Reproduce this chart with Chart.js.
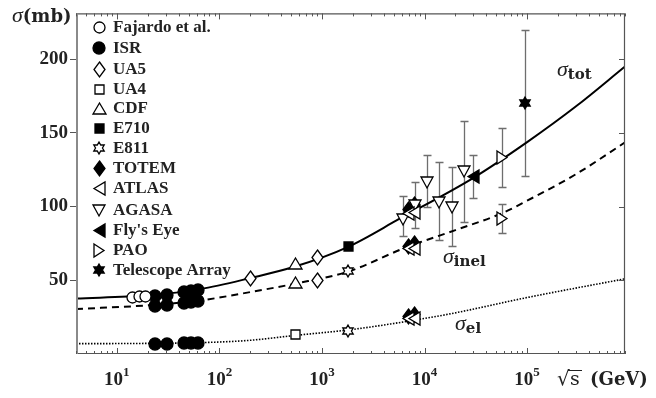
<!DOCTYPE html>
<html>
<head>
<meta charset="utf-8">
<script src="https://cdn.jsdelivr.net/npm/chart.js@4.4.1/dist/chart.umd.min.js"></script>
<style>
  html, body { margin: 0; padding: 0; background: #fff; }
  #wrap { width: 656px; height: 398px; }
</style>
</head>
<body>
<div id="wrap"><canvas id="chart" width="656" height="398"></canvas></div>
<script>
// ---- data (sqrt(s) in GeV, cross sections in mb) ----
const legendNames = ['Fajardo et al.', 'ISR', 'UA5', 'UA4', 'CDF', 'E710', 'E811',
  'TOTEM', 'ATLAS', 'AGASA', "Fly's Eye", 'PAO', 'Telescope Array'];

const fajE = [14.1, 16.5, 19.0];
const fajTot = [38.6, 38.9, 39.1];

const isrE = [23.5, 30.6, 44.7, 52.8, 62.5];
const isrTot = [39.0, 40.0, 42.0, 42.5, 43.2];
const isrInel = [32.5, 33.5, 34.8, 35.2, 35.8];
const isrEl = [6.9, 7.0, 7.2, 7.4, 7.5];

const ua5TotE = [200, 900];
const ua5Tot = [51.5, 65.3];
const ua5InelE = [900];
const ua5Inel = [50.1];

const ua4E = [546];
const ua4El = [13.1];

const cdfE = [546];
const cdfTot = [61.6];
const cdfInel = [48.8];

const e710E = [1800];
const e710Tot = [72.8];

const e811E = [1800];
const e811Inel = [56.0];
const e811El = [15.7];

const totemE = [7000, 8000];
const totemTot = [98.3, 101.7];
const totemInel = [73.2, 74.7];
const totemEl = [25.1, 27.1];

const atlasE = [7000, 8000];
const atlasTot = [95.4, 96.1];
const atlasInel = [71.3, 71.7];
const atlasEl = [24.0, 24.3];

const agasaE = [6110, 8070, 10570, 13930, 18360, 24040];
const agasaTot = [91.5, 101.0, 116.5, 102.9, 99.6, 123.8];
const agasaLo = [79.7, 85.7, 99.6, 77.5, 73.5, 89.7];
const agasaHi = [106.9, 116.8, 135.3, 130.4, 127.1, 158.0];

const flyE = [30000];
const flyTot = [120.5];
const flyLo = [105.8];
const flyHi = [134.9];

const paoE = [57000];
const paoTot = [133.0];
const paoTotLo = [113.2];
const paoTotHi = [153.0];
const paoInel = [92.0];
const paoInelLo = [82.4];
const paoInelHi = [101.8];

const taE = [95000];
const taTot = [170.0];
const taLo = [120.5];
const taHi = [219.8];

// fitted curves
const totCurveE = [4, 20, 65, 200, 546, 1800, 5770, 30000, 100000, 300000, 900000];
const totCurve = [37.6, 39.8, 44.0, 51.5, 59.3, 72.7, 91.9, 119.5, 143.7, 168, 195];
const inelCurveE = [4, 20, 65, 200, 546, 1800, 6700, 20000, 57000, 100000, 300000, 900000];
const inelCurve = [30.5, 33.0, 36.3, 42.0, 47.7, 55.9, 72.5, 84.0, 95.5, 104, 122, 143.5];
const elCurveE = [4, 20, 65, 200, 546, 1800, 4600, 17700, 100000, 900000];
const elCurve = [7.0, 7.2, 7.7, 9.3, 12.6, 16.3, 20.3, 27.2, 38.3, 51.0];

const yTicks = [50, 100, 150, 200];
const xDecades = [1, 2, 3, 4, 5];

// ---- markers ----
function marker(shape, filled, w, h) {
  const pad = 2;
  const c = document.createElement('canvas');
  c.width = Math.ceil(w + pad * 2); c.height = Math.ceil(h + pad * 2);
  const g = c.getContext('2d');
  g.translate(pad, pad);
  const cx = w / 2, cy = h / 2;
  g.beginPath();
  if (shape === 'circle') g.ellipse(cx, cy, w / 2, h / 2, 0, 0, Math.PI * 2);
  else if (shape === 'diamond') { g.moveTo(cx, 0); g.lineTo(w, cy); g.lineTo(cx, h); g.lineTo(0, cy); g.closePath(); }
  else if (shape === 'square') g.rect(0, 0, w, h);
  else if (shape === 'up') { g.moveTo(cx, 0); g.lineTo(w, h); g.lineTo(0, h); g.closePath(); }
  else if (shape === 'down') { g.moveTo(0, 0); g.lineTo(w, 0); g.lineTo(cx, h); g.closePath(); }
  else if (shape === 'left') { g.moveTo(0, cy); g.lineTo(w, 0); g.lineTo(w, h); g.closePath(); }
  else if (shape === 'right') { g.moveTo(0, 0); g.lineTo(w, cy); g.lineTo(0, h); g.closePath(); }
  else if (shape === 'hex') {
    const R = w / 2, r = R / Math.sqrt(3);
    for (let k = 0; k < 12; k++) {
      const a = (-90 + k * 30) * Math.PI / 180, rr = k % 2 ? r : R;
      const px = cx + rr * Math.cos(a), py = cy + rr * Math.sin(a);
      k ? g.lineTo(px, py) : g.moveTo(px, py);
    }
    g.closePath();
  }
  g.fillStyle = filled ? '#000' : '#fff';
  g.fill();
  g.lineWidth = 1.3;
  g.strokeStyle = '#000';
  g.stroke();
  return c;
}

const M = {
  'Fajardo et al.': marker('circle', false, 11, 11),
  'ISR': marker('circle', true, 12, 12),
  'UA5': marker('diamond', false, 11, 15),
  'UA4': marker('square', false, 9, 9),
  'CDF': marker('up', false, 13, 11),
  'E710': marker('square', true, 9, 9),
  'E811': marker('hex', false, 12, 12),
  'TOTEM': marker('diamond', true, 11, 15),
  'ATLAS': marker('left', false, 11, 13),
  'AGASA': marker('down', false, 12, 11),
  "Fly's Eye": marker('left', true, 11, 13),
  'PAO': marker('right', false, 10, 13),
  'Telescope Array': marker('hex', true, 12, 12)
};

const pts = (E, V) => E.map((e, i) => ({ x: e, y: V[i] }));

function pointSet(name, E, V, extra) {
  return Object.assign({
    label: name, data: pts(E, V), pointStyle: M[name], pointRadius: 6,
    showLine: false, order: 5
  }, extra || {});
}

function curve(E, V, dash, width) {
  return {
    label: '', data: pts(E, V), showLine: true, pointRadius: 0,
    borderColor: '#000', borderWidth: width, borderDash: dash,
    cubicInterpolationMode: 'monotone', order: 20
  };
}

const datasets = [
  curve(totCurveE, totCurve, [], 2),
  curve(inelCurveE, inelCurve, [7, 5], 2),
  curve(elCurveE, elCurve, [1.5, 1.5], 1.6),
  pointSet('Fajardo et al.', fajE, fajTot),
  pointSet('ISR', isrE, isrTot),
  pointSet('ISR', isrE, isrInel),
  pointSet('ISR', isrE, isrEl),
  pointSet('UA5', ua5TotE, ua5Tot),
  pointSet('UA5', ua5InelE, ua5Inel),
  pointSet('UA4', ua4E, ua4El),
  pointSet('CDF', cdfE, cdfTot),
  pointSet('CDF', cdfE, cdfInel),
  pointSet('E710', e710E, e710Tot),
  pointSet('E811', e811E, e811Inel),
  pointSet('E811', e811E, e811El),
  pointSet('ATLAS', atlasE, atlasTot, { order: 3 }),
  pointSet('ATLAS', atlasE, atlasInel, { order: 3 }),
  pointSet('ATLAS', atlasE, atlasEl, { order: 3 }),
  pointSet('TOTEM', totemE, totemTot, { order: 8 }),
  pointSet('TOTEM', totemE, totemInel, { order: 8 }),
  pointSet('TOTEM', totemE, totemEl, { order: 8 }),
  pointSet('AGASA', agasaE, agasaTot, { errLo: agasaLo, errHi: agasaHi }),
  pointSet("Fly's Eye", flyE, flyTot, { errLo: flyLo, errHi: flyHi }),
  pointSet('PAO', paoE, paoTot, { errLo: paoTotLo, errHi: paoTotHi }),
  pointSet('PAO', paoE, paoInel, { errLo: paoInelLo, errHi: paoInelHi }),
  pointSet('Telescope Array', taE, taTot, { errLo: taLo, errHi: taHi })
];

// ---- drawing helpers ----
function rich(ctx, parts, x, y) {
  let cx = x;
  for (const p of parts) {
    ctx.font = p.font;
    ctx.fillText(p.t, cx, y + (p.dy || 0));
    cx += ctx.measureText(p.t).width + (p.gap || 0);
  }
  return cx;
}

const decor = {
  id: 'decor',
  beforeDatasetsDraw(chart) {
    const { ctx, scales: { x, y } } = chart;
    ctx.imageSmoothingEnabled = false;
    ctx.save();
    ctx.strokeStyle = '#6e6e6e';
    ctx.lineWidth = 1.3;
    chart.data.datasets.forEach(ds => {
      if (!ds.errLo) return;
      ds.data.forEach((p, i) => {
        const px = Math.round(x.getPixelForValue(p.x)) + 0.5;
        const y1 = Math.round(y.getPixelForValue(ds.errLo[i])) + 0.5;
        const y2 = Math.round(y.getPixelForValue(ds.errHi[i])) + 0.5;
        ctx.beginPath();
        ctx.moveTo(px, y1); ctx.lineTo(px, y2);
        ctx.moveTo(px - 4, y1); ctx.lineTo(px + 4, y1);
        ctx.moveTo(px - 4, y2); ctx.lineTo(px + 4, y2);
        ctx.stroke();
      });
    });
    ctx.restore();
  },
  afterDraw(chart) {
    const { ctx, chartArea: a, scales: { x, y } } = chart;
    ctx.save();
    // frame
    ctx.strokeStyle = '#555';
    ctx.lineWidth = 1.2;
    ctx.beginPath();
    ctx.moveTo(a.left, a.top + 0.5); ctx.lineTo(a.right, a.top + 0.5);
    ctx.moveTo(a.right - 0.5, a.top); ctx.lineTo(a.right - 0.5, a.bottom);
    ctx.moveTo(a.left, a.bottom - 0.5); ctx.lineTo(a.right, a.bottom - 0.5);
    ctx.stroke();
    ctx.strokeStyle = '#8a8a8a';
    ctx.lineWidth = 2;
    ctx.beginPath();
    ctx.moveTo(a.left + 1, a.top); ctx.lineTo(a.left + 1, a.bottom);
    ctx.stroke();

    // x ticks (inward, top and bottom)
    ctx.strokeStyle = '#555';
    ctx.lineWidth = 1;
    ctx.beginPath();
    for (let n = 0; n <= 5; n++) {
      for (let m = 1; m <= 9; m++) {
        const v = m * Math.pow(10, n);
        if (v < x.min || v > x.max) continue;
        const px = Math.round(x.getPixelForValue(v)) + 0.5;
        const len = m === 1 ? 6 : 3;
        ctx.moveTo(px, a.bottom); ctx.lineTo(px, a.bottom - len);
        ctx.moveTo(px, a.top); ctx.lineTo(px, a.top + len);
      }
    }
    // right y ticks
    yTicks.forEach(v => {
      const py = Math.round(y.getPixelForValue(v)) + 0.5;
      ctx.moveTo(a.right, py); ctx.lineTo(a.right - 6, py);
    });
    ctx.stroke();

    // x tick labels 10^n
    ctx.fillStyle = '#222';
    ctx.textBaseline = 'alphabetic';
    xDecades.forEach(n => {
      const px = x.getPixelForValue(Math.pow(10, n));
      ctx.font = 'bold 19px "Liberation Serif"';
      const w1 = ctx.measureText('10').width;
      ctx.font = 'bold 13px "Liberation Serif"';
      const w2 = ctx.measureText(String(n)).width;
      const x0 = px - (w1 + w2) / 2;
      rich(ctx, [
        { t: '10', font: 'bold 19px "Liberation Serif"' },
        { t: String(n), font: 'bold 13px "Liberation Serif"', dy: -9 }
      ], x0, 385);
    });

    // axis titles
    rich(ctx, [
      { t: 'σ', font: 'italic 22px "Liberation Serif"' },
      { t: '(mb)', font: 'bold 18px "DejaVu Serif"' }
    ], 12, 22);
    ctx.font = '20px "DejaVu Serif"';
    ctx.fillText('√', 557, 385);
    ctx.font = '19px "DejaVu Serif"';
    ctx.fillText('s', 570, 385);
    ctx.lineWidth = 1;
    ctx.strokeStyle = '#222';
    ctx.beginPath();
    ctx.moveTo(568, 370.5); ctx.lineTo(582, 370.5);
    ctx.stroke();
    ctx.font = 'bold 18px "DejaVu Serif"';
    ctx.fillText('(GeV)', 590, 385);

    // curve labels
    rich(ctx, [
      { t: 'σ', font: 'italic 22px "Liberation Serif"' },
      { t: 'tot', font: 'bold 15px "DejaVu Serif"', dy: 3 }
    ], 557, 76);
    rich(ctx, [
      { t: 'σ', font: 'italic 22px "Liberation Serif"' },
      { t: 'inel', font: 'bold 15px "DejaVu Serif"', dy: 3 }
    ], 443, 263);
    rich(ctx, [
      { t: 'σ', font: 'italic 22px "Liberation Serif"' },
      { t: 'el', font: 'bold 15px "DejaVu Serif"', dy: 3 }
    ], 455, 330);

    // legend
    const rowY = [27, 48, 69, 89, 108, 128, 148, 168, 188, 210, 230, 250, 270];
    ctx.font = 'bold 17px "Liberation Serif"';
    ctx.textBaseline = 'middle';
    legendNames.forEach((name, i) => {
      const mk = M[name];
      ctx.drawImage(mk, Math.round(99 - mk.width / 2), Math.round(rowY[i] - mk.height / 2));
      ctx.fillText(name, 113, rowY[i] + 1);
    });
    ctx.restore();
  }
};

new Chart(document.getElementById('chart').getContext('2d'), {
  type: 'scatter',
  data: { datasets: datasets },
  plugins: [decor],
  options: {
    responsive: false,
    animation: false,
    devicePixelRatio: 1,
    events: [],
    layout: { padding: { top: 5, right: 31, left: 0, bottom: 0 } },
    plugins: { legend: { display: false }, tooltip: { enabled: false } },
    scales: {
      x: {
        type: 'logarithmic', min: 4, max: 900000,
        grid: { display: false }, border: { display: false },
        ticks: { display: false },
        afterFit: s => { s.height = 44; }
      },
      y: {
        type: 'linear', min: 0, max: 231,
        grid: {
          drawOnChartArea: false, tickLength: 6,
          tickColor: c => (c.tick && c.tick.value === 0) ? 'rgba(0,0,0,0)' : '#555'
        },
        border: { display: false },
        ticks: {
          stepSize: 50, includeBounds: false, padding: 2, color: '#222',
          font: { family: 'Liberation Serif', weight: 'bold', size: 19 },
          callback: v => v === 0 ? '' : v
        },
        afterFit: s => { s.width = 76; }
      }
    }
  }
});
</script>
</body>
</html>
